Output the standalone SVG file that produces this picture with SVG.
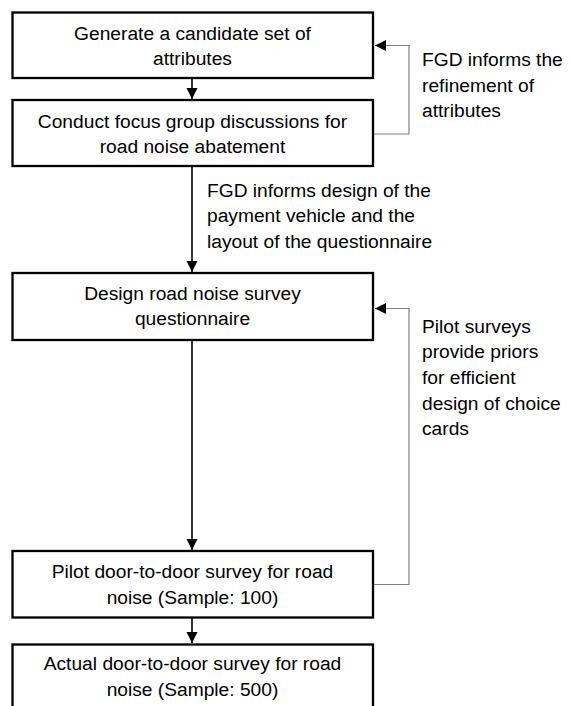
<svg xmlns="http://www.w3.org/2000/svg" width="570" height="706" viewBox="0 0 570 706">
<style>
.box{fill:#fff;stroke:#000;stroke-width:2.3}
.t{font-family:"Liberation Sans",Arial,sans-serif;font-size:19.2px;fill:#000}
.c{text-anchor:middle}
.main{stroke:#000;stroke-width:1.6;fill:none}
.fb{stroke:#808080;stroke-width:1.2;fill:none}
</style>
<defs>
<marker id="ah" markerUnits="userSpaceOnUse" markerWidth="12" markerHeight="12" refX="11" refY="5.5" orient="auto">
<path d="M0,0 L11,5.5 L0,11 Z" fill="#000"/>
</marker>
</defs>
<rect width="570" height="706" fill="#fff"/>
<g id="connectors">
<line class="main" x1="192" y1="78" x2="192" y2="99" marker-end="url(#ah)"/>
<line class="main" x1="192" y1="166" x2="192" y2="272" marker-end="url(#ah)"/>
<line class="main" x1="192" y1="340" x2="192" y2="550" marker-end="url(#ah)"/>
<line class="main" x1="192" y1="617" x2="192" y2="643" marker-end="url(#ah)"/>
<polyline class="fb" points="374,134 409,134 409,45.5 375,45.5" marker-end="url(#ah)"/>
<polyline class="fb" points="374,584.5 409,584.5 409,308.5 375,308.5" marker-end="url(#ah)"/>
<text class="t" x="422" y="65.5">FGD informs the</text>
<text class="t" x="422" y="91.5">refinement of</text>
<text class="t" x="422" y="117">attributes</text>
<text class="t" x="207" y="196.5">FGD informs design of the</text>
<text class="t" x="207" y="222">payment vehicle and the</text>
<text class="t" x="207" y="247.5">layout of the questionnaire</text>
<text class="t" x="422" y="332.5">Pilot surveys</text>
<text class="t" x="422" y="358">provide priors</text>
<text class="t" x="422" y="383.5">for efficient</text>
<text class="t" x="422" y="409.5">design of choice</text>
<text class="t" x="422" y="435">cards</text>
</g>
<g id="n1">
<rect class="box" x="12.5" y="12.5" width="360.5" height="65.5"/>
<text class="t c" x="192.5" y="39.5">Generate a candidate set of</text>
<text class="t c" x="192.5" y="65">attributes</text>
</g>
<g id="n2">
<rect class="box" x="12.5" y="100" width="360.5" height="66"/>
<text class="t c" x="192.5" y="127.5">Conduct focus group discussions for</text>
<text class="t c" x="192.5" y="153">road noise abatement</text>
</g>
<g id="n3">
<rect class="box" x="12.5" y="273" width="360.5" height="67"/>
<text class="t c" x="192.5" y="299.5">Design road noise survey</text>
<text class="t c" x="192.5" y="325">questionnaire</text>
</g>
<g id="n4">
<rect class="box" x="12.5" y="551" width="360.5" height="66.5"/>
<text class="t c" x="192.5" y="578">Pilot door-to-door survey for road</text>
<text class="t c" x="192.5" y="603.5">noise (Sample: 100)</text>
</g>
<g id="n5">
<rect class="box" x="12.5" y="644.5" width="360.5" height="70"/>
<text class="t c" x="192.5" y="670">Actual door-to-door survey for road</text>
<text class="t c" x="192.5" y="695.5">noise (Sample: 500)</text>
</g>
</svg>
